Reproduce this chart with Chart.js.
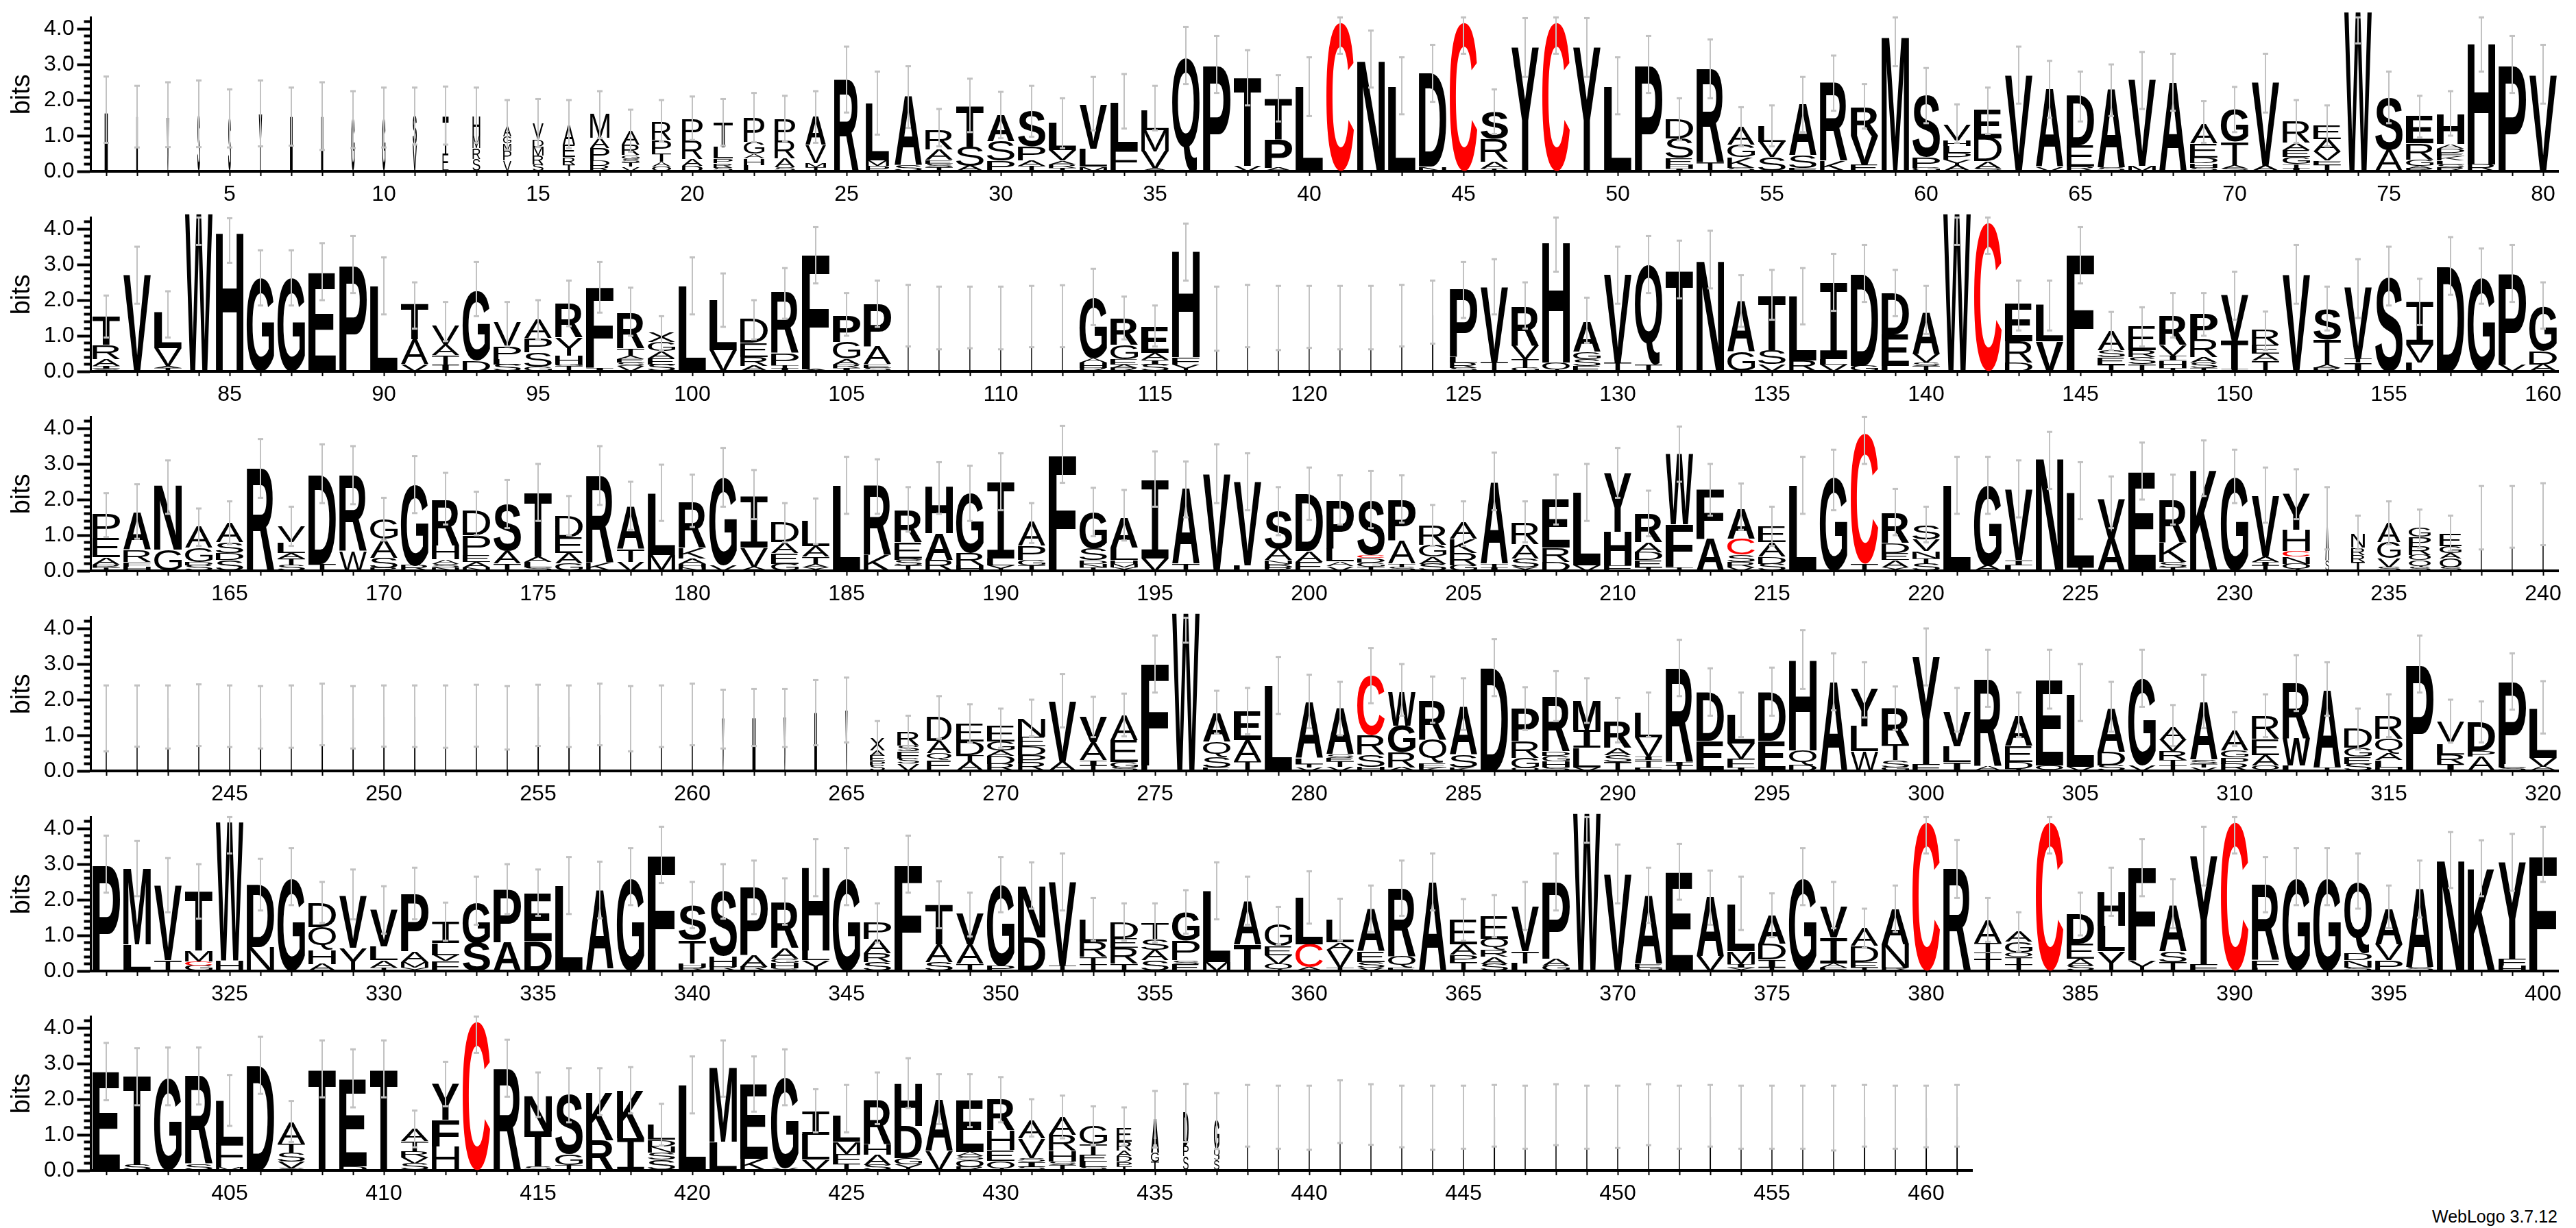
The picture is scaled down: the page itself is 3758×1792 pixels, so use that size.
<!DOCTYPE html>
<html>
<head>
<meta charset="utf-8">
<title>WebLogo</title>
<script src="https://cdn.jsdelivr.net/npm/chart.js@4/dist/chart.umd.min.js"></script>
<style>
html,body{margin:0;padding:0;background:#fff;width:3758px;height:1792px;overflow:hidden}
canvas{position:absolute;left:0}
#credit{position:absolute;left:3548px;top:1761px;font:25px "Liberation Sans",sans-serif;color:#000;white-space:nowrap}
</style>
</head>
<body>
<div id="credit">WebLogo 3.7.12</div>
<script>
// Each column lists its letters bottom to top as letter + height in bits.
const logoRow1 = [
"I1.65","I1.55","V1.5","S1.6","S1.5","Y1.6","I1.55","I1.55","G1.5","G1.5",
"V.75 S.8","E.5 T1.05","S.35 R.3 M.35 H.55","V.3 P.28 M.2 G.2 A.3","S.2 R.25 M.25 D.2 V.45","T.2 R.2 E.35 A.55","R.15 D.15 P.35 A.3 M.65","V.13 T.12 S.1 G.1 R.3 A.4","O.13 A.13 T.22 P.4 R.5","D.15 A.2 R.52 P.6",
"S.1 R.13 P.13 L.32 T.7","L.18 H.18 A.13 G.33 P.65","S.12 A.25 R.5 P.6","T.12 M.12 V.5 A.8","R2.6","P.15 M.15 L1.6","S.17 A1.93","T.12 S.1 E.1 A.3 R.55","A.15 S.55 T1.15","P.3 S.55 A.73",
"T.15 A.15 P.4 S.98","T.1 R.1 A.1 V.3 L.77","M.13 L.5 V1.24","F.62 L1.3","A.08 V.48 M.6 L.57","Q3.2","P3.0","V.15 T2.47","A.1 P.8 T1.15","L2.37",
"C4.17","N3.12","L2.37","N.13 D2.6","C4.17","T.07 A.2 R.65 S.75","Y3.48","C4.17","Y3.48","L2.37",
"P3.0","I.07 H.1 E.2 S.55 D.55","T.25 R2.63","S.1 K.3 G.35 A.5","S.4 V.43 L.43","F.1 S.35 A1.45","K.3 R2.2","E.2 V.8 R.8","M3.78","G.1 P.3 S1.73",
"A.15 Y.17 P.2 L.2 H.15 V.45","S.08 A.2 D.65 E.8","V2.7","V.12 A2.18","R.13 E.6 D1.4","S.1 A2.2","M.15 V2.42","A2.5","S.1 H.13 D.15 E.4 A.55","S.08 A.1 T.65 G.9",
"A.15 V2.33","I.1 T.1 G.2 E.2 A.2 R.6","T.2 F.1 V.25 A.35 E.4","W4.47","A.6 S1.47","R.07 A.08 G.18 R.45 E.75","R.1 S.1 L.1 K.12 E.1 D.12 A.13 H.85","R.2 H3.4","P3.0","V2.7"];
const lowerRow1 = [.8,.67,.68,.68,.67,.7,.72,.6,.65,.67,.75,.75,.8,.6,.68,.65,.93,.55,.85,.88,.72,.82,.85,.8,1.65,1.03,1.22,.7,1.1,.93,.97,.65,1.15,1.2,1.15,2.45,2.2,1.85,1.4,1.55,3.3,2.35,1.6,1.95,3.3,1.05,2.65,3.3,2.65,1.6,2.2,.87,2.05,.7,.7,1.1,1.7,1.2,2.95,1.35,.8,1.05,1.9,1.5,1.4,1.55,1.75,1.7,.8,1.1,1.65,.8,.7,3.59,1.35,.95,1.0,2.8,2.2,1.9];
const upperRow1 = [2.66,2.4,2.5,2.55,2.3,2.55,2.35,2.5,2.25,2.35,2.35,2.38,2.35,2.0,2.03,2.0,2.25,1.73,2.0,2.1,2.03,2.2,2.12,2.25,3.5,2.8,2.95,1.75,2.6,2.23,2.4,2.05,2.65,2.73,2.4,4.05,3.8,3.4,2.7,3.2,4.32,3.95,3.2,3.55,4.32,2.3,4.3,4.32,4.3,3.2,3.8,2.05,3.7,1.8,1.85,2.65,3.25,2.45,4.32,2.9,1.88,2.35,3.5,3.1,2.8,3.0,3.35,3.3,1.97,2.37,3.3,2.0,1.85,4.32,2.8,2.12,2.25,4.32,3.8,3.55];

const logoRow2 = [
"S.07 I.08 A.2 R.4 T.78","V2.73","T.1 A.05 V.5 L1.0","W4.42","H3.9","G2.63","G2.63","E2.78","P3.0","L2.4",
"V.2 A.7 T.98","I.2 T.25 A.3 V.53","D.3 G1.96","S.2 L.15 P.35 V.68","G.13 S.4 P.4 A.51","T.15 G.05 H.25 Y.5 R.95","I.1 F2.26","V.15 S.1 E.1 A.1 T.2 R.98","S.2 E.17 A.2 G.25 X.26","L2.4",
"V.6 L1.4","A.15 R.25 E.4 D.66","I.1 T.07 P.33 R1.7","A.05 F3.23","I.1 R.1 A.15 G.47 P.75","S.1 E.1 A.5 P1.2","I1.5","I1.5","I1.5","I1.5",
"I1.5","I1.5","R.1 H.15 A.12 G1.7","R.1 A.1 E.15 G.4 R.75","S.2 I.12 A.2 E.73","Y.2 F.2 H2.98","I1.5","I1.5","I1.5","I1.5",
"I1.5","I1.5","I1.5","I1.6","S.1 R.15 L.15 P1.9","T.27 V2.1","G.1 T.25 V.38 R1.1","Q.25 H3.38","E.15 S.2 G.2 A.85","T.25 V2.47",
"T.2 Q2.78","T2.85","N3.1","G.55 A1.42","V.2 S.4 T1.53","R.3 L1.8","V.2 L.15 I2.15","G.15 D2.57","L.15 E.88 D1.15","T.15 S.1 V.25 A1.17",
"W4.42","C4.17","D.25 R.6 E1.05","V.85 L1.03","F3.28","T.2 E.2 S.2 A.55","T.2 S.2 R.2 E.66","T.1 H.2 I.15 V.3 R.82","T.1 S.15 A.15 R.5 P.72","I.07 T.8 V1.28",
"T.3 A.2 E.25 R.43","V2.72","R.1 A.1 T.7 S.85","I.25 T.12 V2.0","S2.65","L.25 V.5 I1.2","D2.93","G2.63","V.2 P2.55","A.2 D.37 G1.25"];
const lowerRow2 = [.95,1.9,.95,3.55,3.05,1.85,1.85,2.0,2.2,1.6,1.2,.85,1.55,.7,.9,1.27,1.65,1.0,.6,1.6,1.25,.9,1.48,2.47,1.0,1.25,.7,.62,.65,.62,.68,.68,1.3,.9,.7,2.55,.58,.68,.6,.66,.62,.62,.7,.78,1.5,1.6,1.2,2.8,.8,1.9,2.2,2.05,2.33,1.25,1.45,1.32,1.7,1.95,1.55,1.05,3.55,3.3,1.15,1.15,2.47,.6,.7,.95,1.0,1.45,.6,1.9,1.15,1.5,1.85,1.3,2.15,1.9,1.95,1.2];
const upperRow2 = [2.13,3.5,2.25,4.32,4.3,3.4,3.4,3.6,3.8,3.2,2.5,1.95,3.07,1.95,2.0,2.55,3.07,2.35,1.55,3.2,2.75,2.0,2.9,4.05,2.2,2.55,2.43,2.38,2.38,2.38,2.4,2.42,2.88,2.1,1.85,4.15,2.38,2.43,2.4,2.4,2.4,2.4,2.43,2.55,3.07,3.15,2.5,4.32,2.07,3.5,3.8,3.67,3.95,2.7,2.85,2.9,3.3,3.55,2.85,2.4,4.32,4.32,2.55,2.55,4.05,1.67,1.8,2.2,2.2,2.8,1.68,3.55,2.38,3.15,3.5,2.6,3.77,3.45,3.55,2.5];

const logoRow3 = [
"T.1 R.08 A.2 E.55 P.65","H.12 F.13 R.33 A1.05","G.6 N1.8","S.15 D.1 G.4 A.6","S.3 D.2 S.3 A.55","R2.87","S.15 T.2 A.15 L.3 V.45","T.2 D2.5","W.55 R2.13","R.07 S.3 A.52 G.55",
"R.15 G2.27","N.1 S.1 A.12 H.38 R1.3","N.1 A.15 E.2 P.55 D.69","T.2 A.35 S1.32","S.1 L.15 A.15 T1.78","G.2 A.3 E.45 D.6","K.22 R2.43","V.25 T.35 A1.2","M.45 L1.73","N.1 H.1 A.15 K.3 R1.3",
"V.15 G2.47","A.1 V.55 I1.45","G.2 E.3 A.3 D.57","X.1 A.1 T.2 A.3 L.7","L2.4","K.45 R1.95","T.15 S.15 B.05 E.45 R.9","R.3 A.75 H1.31","H.15 R.35 G1.66","Y.15 L.2 I2.15",
"T.15 G.15 P.4 A.68","F3.27","T.1 N.1 D.1 S.33 G1.0","X.1 M.1 H.1 L.35 A.85","V.35 I2.2","T.2 A2.1","V2.72","L.15 V2.34","R.08 B.12 N.1 A.32 S1.05","E.25 A.3 D1.61",
"V.13 A.13 L.37 P1.34","T.12 G.12 D.12 C.08 S1.53","S.1 T.1 A.65 P1.15","S.2 A.2 G.33 R.55","G.15 R.35 K.4 A.48","I.1 T.1 A2.29","X.1 S.25 A.4 R.6","D.25 R.4 E1.35","V.15 L2.05","F.15 H.95 Y1.65",
"T.1 E.2 D.22 A.28 R.8","T.1 F1.2 W1.97","A.9 F1.38","V.1 R.15 S.2 C.45 A.85","S.2 D.2 A.4 E.45","L2.4","G2.62","T.2 C3.65","X.1 A.2 E.2 D.28 R.85","S.2 T.15 N.2 V.33 S.4",
"L2.4","A.15 G2.25","L.15 I.15 V1.98","N3.15","T.1 L2.1","A.9 V1.1","E2.78","T.1 S.15 K.55 R1.2","K2.85","G2.62",
"T.15 I.1 A.15 V1.7","Q.2 N.2 C.15 H.6 Y1.01","S.3 A1.17","T.25 R.2 R.2 N.4","S.1 V.25 G.45 A.55","S.1 Q.2 O.15 R.25 P.25 G.25","S.1 O.25 A.15 G.2 E.35","I1.55","I1.55","I1.6"];
const lowerRow3 = [.95,.9,1.6,.7,.75,2.05,.7,1.9,1.87,.85,1.62,1.3,1.0,1.2,1.4,1.0,1.85,1.15,1.4,1.23,1.8,1.45,.8,.75,1.6,1.6,1.1,1.6,1.4,1.7,.78,2.47,.97,.85,1.8,1.5,1.9,1.7,1.0,1.43,1.3,1.2,1.35,.7,.7,1.7,.8,1.3,1.4,2.05,.97,2.5,1.55,1.15,.7,1.6,1.7,3.0,1.0,.8,1.6,1.6,1.5,2.3,1.45,1.2,2.0,1.3,2.1,1.9,1.35,1.45,.6,.6,.75,.65,.55,.6,.65,.72];
const upperRow3 = [2.18,2.43,3.1,1.75,1.95,3.7,1.8,3.55,3.5,2.05,3.22,2.75,2.22,2.55,3.0,2.1,3.5,2.5,2.98,2.7,3.45,2.83,1.9,2.03,3.2,3.13,2.35,3.05,2.95,3.3,1.9,4.07,2.33,2.27,3.35,3.07,3.55,3.3,2.35,2.9,2.68,2.8,2.68,1.85,1.95,3.32,1.95,2.7,3.0,3.45,2.25,4.05,3.0,2.45,1.8,3.2,3.4,4.32,2.3,1.8,3.2,3.2,3.1,3.9,3.05,2.65,3.6,2.7,3.66,3.4,2.9,2.85,2.35,1.55,1.95,1.72,1.55,2.38,2.38,2.46];

const logoRow4 = [
"I1.5","I1.55","I1.5","I1.6","I1.55","I1.5","I1.55","I1.6","I1.5","I1.55",
"I1.55","I1.5","I1.55","I1.5","I1.55","I1.55","I1.6","I1.5","I1.55","I1.6",
"V1.48","I1.5","V1.5","I1.65","V1.72","S.15 P.13 E.15 A.15 X.35","V.2 S.15 F.2 S.15 R.4","E.3 Q.2 A.35 D.65","A.25 T.2 D.38 E.5","R.2 D.22 A.15 G.25 E.43",
"R.22 P.22 D.25 E.28 N.5","A.25 V1.7","T.15 I.15 A.5 V.7","S.1 G.15 E.62 A.7","L.15 F2.85","W4.42","E.1 S.3 Q.42 A.78","T.27 A.6 E.81","L2.4","V.1 T.1 L.15 A1.57",
"V.12 T.15 E.1 S.1 A1.29","H.12 S.33 R.55 C1.66","A.1 R.42 G.75 W.93","K.1 E.12 Q.65 R1.1","K.1 S.35 A1.35","D2.9","O.07 G.3 R.47 P.92","S.1 H.17 G.15 D.13 R1.53","V.1 L.55 I.5 M.82","T.25 S.2 A.2 R.75",
"F.1 T.2 I.1 V.55 L.68","T.15 I.1 R2.63","E.85 D1.35","I.1 F.25 V.42 L.8","E.85 D1.35","D.17 Q.4 H2.52","A2.5","W.55 L.7 Y1.05","G.1 S.2 T.45 R1.01","F.2 Y3.0",
"I.25 L.45 V.97","A.12 R2.44","T.05 D.2 E.45 A.83","Q.15 E2.38","V.12 L2.01","S.15 D.38 A1.21","V.15 G2.43","T.15 T.15 R.25 V.32 A.38","V.1 T.1 S.12 A1.6","R.2 P.18 G.2 A.57",
"Q.15 A.3 E.45 R.65","L.15 W.75 R1.55","T.1 A2.17","S.2 E.2 G.25 D.55","H.1 L.2 A.2 Q.4 R.65","P3.0","I.2 R.27 L.3 V.61","A.4 P.15 D.8","S.1 L.1 P2.3","A.12 V.25 L1.38"];
const lowerRow4 = [.55,.68,.63,.7,.67,.63,.65,.72,.63,.68,.67,.65,.68,.6,.7,.67,.72,.55,.67,.72,.63,.7,.67,.72,.8,.47,.6,.9,.8,.65,.97,1.22,.95,.97,2.2,3.6,1.05,1.03,1.6,1.2,1.0,1.9,1.55,1.35,1.15,2.1,1.15,1.4,1.35,.8,.95,2.1,1.55,.95,1.55,2.3,1.7,1.5,1.15,2.4,1.1,1.8,.95,1.75,1.4,1.1,1.8,.7,1.2,.7,.95,1.68,1.55,.6,.95,2.2,.8,.8,1.72,1.05];
const upperRow4 = [2.4,2.4,2.4,2.43,2.4,2.38,2.4,2.45,2.38,2.4,2.4,2.4,2.42,2.38,2.42,2.4,2.45,2.38,2.4,2.45,2.28,2.3,2.3,2.55,2.62,1.4,1.55,2.1,1.87,1.75,2.0,2.72,2.08,2.17,3.8,4.3,2.25,2.33,3.2,2.7,2.5,3.45,3.0,2.65,2.6,3.7,2.35,2.8,2.6,2.05,2.2,3.68,2.88,2.2,2.9,3.95,3.3,3.05,2.37,4.0,2.33,3.4,2.2,3.4,3.0,2.5,3.4,1.85,2.7,1.65,2.15,3.25,3.05,1.75,2.15,3.8,2.0,1.95,3.3,2.52];

const logoRow5 = [
"P3.0","L.75 M2.13","T.3 V2.1","G.15 C.12 M.3 T1.67","H.3 W3.88","N.68 D1.74","G2.6","A.2 H.4 Q.63 D.65","Y.65 V1.45","T.1 A.2 L.4 V1.02",
"Y.1 M.15 A.3 P1.6","F.28 V.17 L.33 I.6","S.78 G1.15","A.8 P1.48","D.85 E1.32","L2.4","L.07 A2.2","G2.6","F3.27","R.1 H.12 T.65 S.95",
"R.12 H.3 S1.82","R.12 A.33 P1.9","S.07 H.15 G.12 A.3 R1.3","Y.3 L.27 H2.33","G2.6","S.25 R.25 A.4 P.46","F3.0","S.25 A.5 T1.12","T.2 A.55 V.85","P.15 G2.27",
"D.95 N1.45","T.15 V2.35","T.2 T.2 R.42 L.62","T.2 R.45 E.28 D.45","S.3 A.3 S.3 T.45","E.2 S.1 P.55 G.78","M.25 L2.0","T.75 A1.22","Q.2 V.25 E.25 G.6","A.1 C.65 L1.3",
"T.1 V.5 A.2 L.64","V.1 S.15 E.3 A1.18","E.1 Q.3 R1.92","A2.5","T.25 P.2 A.3 E.68","S.2 A.2 R.2 Q.3 E.63","L.22 T.33 V1.25","G.15 A.2 P2.15","W4.42","V2.72",
"G.1 E.1 A1.92","E2.78","V.42 A1.65","Y.1 I.1 M.35 L1.3","T.1 I.22 D.45 A.8","G2.6","F.1 A.12 I.72 V.86","T.1 E.15 D.45 A.5","R.1 N.65 A1.0","C4.17",
"R2.87","T.35 T.18 T.25 A.65","T.2 T.2 O.12 G.3 A.3","C4.17","S.15 A.2 E.42 D.83","Y.55 L.72 H.95","Y.3 F2.6","T.25 S.3 A1.3","F.2 Y3.03","C4.17",
"L.1 F.2 R2.13","G2.6","G2.6","S.1 N.2 D.2 Q2.0","P.3 V.45 A1.0","S.1 A2.2","N3.1","K2.9","H.15 F.2 Y2.7","F3.2"];
const lowerRow5 = [2.2,2.1,1.65,1.47,3.3,1.7,1.85,1.35,1.45,1.05,1.45,.85,1.3,1.6,1.55,1.6,1.48,1.85,2.47,1.2,1.47,1.6,1.3,2.1,1.85,.8,2.2,1.2,.97,1.65,1.75,1.7,.85,.85,.8,1.05,1.45,1.3,.75,1.33,.85,1.1,1.55,1.7,.85,.95,1.15,1.7,3.6,1.9,1.35,2.0,1.3,1.15,.95,1.85,1.2,.65,1.1,3.3,2.05,.82,.55,3.3,1.0,1.55,2.1,1.2,2.4,3.3,1.65,1.85,1.85,1.75,1.2,1.5,2.33,2.1,2.25,2.5];
const upperRow5 = [3.8,3.65,3.17,3.0,4.32,3.15,3.45,2.5,2.85,2.38,2.9,1.92,2.65,3.0,2.85,3.2,3.07,3.45,4.05,2.5,3.0,3.1,2.6,3.7,3.45,1.9,3.8,2.52,2.2,3.2,3.05,3.3,2.05,1.9,1.9,2.27,3.05,2.65,1.8,2.8,2.03,2.4,3.1,3.3,2.02,2.13,2.5,3.3,4.32,3.55,2.9,3.57,2.82,2.65,2.18,3.45,2.5,1.75,2.4,4.32,3.68,2.05,1.65,4.32,2.2,2.9,3.7,2.58,4.05,4.32,3.2,3.45,3.45,3.3,2.4,3.1,3.9,3.67,3.85,4.05];

const logoRow6 = [
"E2.78","S.15 T2.5","G2.6","S.17 R2.48","M.1 F.65 L1.2","D2.93","S.05 V.2 S.25 T.25 A.6","T2.85","D.12 E2.43","T2.85",
"S.2 V.17 R.17 T.28 A.35","H.68 F.75 Y1.0","C4.17","R2.85","S.12 T.98 N.98","T.15 G.3 S1.67","R.85 K1.35","I.9 K1.35","S.3 S.2 N.18 D.18 L.42","L2.4",
"L.8 M2.08","K.33 E2.1","V.07 G2.53","V.3 L.7 I.67","T.2 F.27 M.33 L.73","S.15 A.3 H.3 R1.25","Y.17 G.18 D.9 H1.2","V.55 A1.45","R.1 O.2 S.1 A.12 E1.45","Q.27 E.3 H.55 R.86",
"S.1 I.15 S.1 V.55 A.49","T.15 S.1 H.3 R.45 A.5","S.1 L.15 E.2 T.3 G.5","T.12 P.13 D.15 A.15 R.25 E.4","T.25 G.25 A.94","S.4 P.3 D.93","S.3 J.12 U.18 G.8","I1.52","I1.5","I1.45",
"I1.65","I1.55","I1.52","I1.4","I1.5","I1.52","I1.48","I1.55","I1.5","I1.5",
"I1.55","I1.5","I1.52","I1.48","I1.5","I1.5","I1.48","I1.52","I1.48","I1.5","I1.52"];
const lowerRow6 = [1.97,1.83,1.83,1.85,1.25,2.15,.8,2.05,1.77,2.05,.65,1.8,3.3,2.07,1.5,1.35,1.55,1.6,.7,1.6,2.07,1.65,1.83,1.07,1.07,1.3,1.75,1.3,1.22,1.35,.95,.9,.7,.7,.64,.8,.6,.67,.61,.58,.77,.72,.65,.58,.61,.67,.61,.71,.61,.63,.71,.61,.67,.61,.61,.61,.56,.67,.61,.65,.67];
const upperRow6 = [3.58,3.43,3.45,3.45,2.68,3.75,1.95,3.65,3.4,3.65,1.68,3.05,4.32,3.67,2.75,2.87,2.87,2.9,1.87,3.2,3.65,3.2,3.4,2.28,2.4,2.75,3.15,2.7,2.7,2.62,2.0,2.1,1.8,1.77,2.23,2.43,2.17,2.4,2.38,2.38,2.53,2.42,2.38,2.38,2.38,2.4,2.38,2.42,2.38,2.38,2.42,2.38,2.4,2.38,2.38,2.38,2.38,2.4,2.38,2.38,2.4];

// Share of sequences present at sparse columns (columns not listed are 1).
const occupancy = {
1:.12,2:.06,3:.08,4:.1,5:.1,6:.12,7:.1,8:.08,9:.12,10:.12,11:.15,12:.22,13:.28,14:.3,15:.4,16:.45,17:.7,18:.65,19:.7,20:.75,21:.7,22:.75,23:.75,24:.75,25:.9,26:.85,
107:.03,108:.03,109:.03,110:.03,111:.03,112:.03,117:.03,118:.03,119:.03,120:.03,121:.03,122:.03,123:.04,124:.05,
233:.13,234:.5,235:.85,236:.8,237:.8,238:.03,239:.03,240:.04,
241:.04,242:.04,243:.05,244:.04,245:.04,246:.05,247:.04,248:.05,249:.05,250:.05,251:.05,252:.04,253:.04,254:.04,255:.05,256:.05,257:.05,258:.04,259:.04,260:.04,261:.08,262:.12,263:.08,264:.1,265:.08,266:.55,267:.8,268:.9,
434:.55,435:.3,436:.2,437:.2,
438:.04,439:.04,440:.04,441:.04,442:.04,443:.04,444:.04,445:.04,446:.05,447:.04,448:.04,449:.04,450:.04,451:.04,452:.04,453:.05,454:.04,455:.04,456:.04,457:.04,458:.05,459:.04,460:.05,461:.05
};
const firstPositions = [1,81,161,241,321,401];
const logos = [logoRow1,logoRow2,logoRow3,logoRow4,logoRow5,logoRow6];
const lowers = [lowerRow1,lowerRow2,lowerRow3,lowerRow4,lowerRow5,lowerRow6];
const uppers = [upperRow1,upperRow2,upperRow3,upperRow4,upperRow5,upperRow6];
const rowTops = [0,292,583,875,1167,1458];
const rowRightPad = [25.5,25.5,25.5,25.5,25.5,880.5];

const glyphCache = {};
function glyph(ctx, ch, fontSpec){
  const key = ch+fontSpec;
  if(!glyphCache[key]){
    ctx.save();
    ctx.font = fontSpec;
    const m = ctx.measureText(ch);
    glyphCache[key] = {font:fontSpec,l:m.actualBoundingBoxLeft,r:m.actualBoundingBoxRight,a:m.actualBoundingBoxAscent,d:m.actualBoundingBoxDescent};
    ctx.restore();
  }
  return glyphCache[key];
}
const lettersPlugin = {
  id:'letters',
  afterDatasetsDraw(chart, args, opts){
    const ctx = chart.ctx, yScale = chart.scales.y, xScale = chart.scales.x;
    const pxPerBit = yScale.getPixelForValue(0)-yScale.getPixelForValue(1);
    chart.data.datasets.forEach((ds,di)=>{
      chart.getDatasetMeta(di).data.forEach((bar,i)=>{
        const ch = ds.letters[i];
        if(!ch) return;
        const occ = occupancy[opts.first+i] ?? 1;
        const w = Math.max(bar.width*occ,1.5), top = bar.y, h = bar.base-bar.y;
        if(h<=0) return;
        let fontSpec;
        if(ch==='I') fontSpec = occ<.4 ? 'bold 200px "Liberation Sans"' : '200px "Liberation Mono"';
        else fontSpec = (h/pxPerBit<.7 ? '' : 'bold ')+'200px "Liberation Sans"';
        const g = glyph(ctx,ch,fontSpec);
        ctx.save();
        ctx.fillStyle = ch==='C' ? '#ff0000' : '#000000';
        ctx.font = g.font;
        ctx.textAlign='left'; ctx.textBaseline='alphabetic';
        ctx.translate(bar.x-w/2, top);
        ctx.scale(w/(g.l+g.r), h/(g.a+g.d));
        ctx.fillText(ch, g.l, g.a);
        ctx.restore();
      });
    });
    // error bars
    ctx.save();
    ctx.strokeStyle = ctx.fillStyle = '#c2c2c2';
    ctx.lineWidth = 2;
    opts.lower.forEach((lo,i)=>{
      const x = xScale.getPixelForValue(i);
      const y0 = yScale.getPixelForValue(lo), y1 = yScale.getPixelForValue(opts.upper[i]);
      ctx.beginPath(); ctx.moveTo(x,y0); ctx.lineTo(x,y1); ctx.stroke();
      ctx.fillRect(x-4,y0-1.5,8,3);
      ctx.fillRect(x-4,y1-1.5,8,3);
    });
    ctx.restore();
  }
};

logos.forEach((rows,r)=>{
  const canvas = document.createElement('canvas');
  canvas.width = 3758; canvas.height = 300;
  canvas.style.top = rowTops[r]+'px';
  document.body.appendChild(canvas);
  const parsed = rows.map(s=>s.split(' ').map(t=>[t[0],parseFloat(t.slice(1))]));
  const layers = Math.max(...parsed.map(p=>p.length));
  const datasets = [];
  for(let k=0;k<layers;k++){
    datasets.push({
      data: parsed.map(p=>p[k]?p[k][1]:null),
      letters: parsed.map(p=>p[k]?p[k][0]:null),
      backgroundColor:'rgba(0,0,0,0)', borderWidth:0,
      barPercentage:1, categoryPercentage:.89, stack:'logo'
    });
  }
  const labels = rows.map((_,i)=>firstPositions[r]+i);
  new Chart(canvas,{
    type:'bar',
    data:{labels,datasets},
    plugins:[lettersPlugin],
    options:{
      responsive:false, animation:false, devicePixelRatio:1,
      layout:{padding:{top:25.4,left:0,right:rowRightPad[r],bottom:0}},
      plugins:{legend:{display:false},tooltip:{enabled:false},
        letters:{first:firstPositions[r],lower:lowers[r],upper:uppers[r]}},
      scales:{
        x:{
          stacked:true, offset:true,
          afterFit(s){s.height=50;},
          grid:{offset:false,drawOnChartArea:false,tickLength:7,tickWidth:2,tickColor:'#000'},
          border:{width:4,color:'#000'},
          ticks:{autoSkip:false,maxRotation:0,minRotation:0,padding:8,color:'#000',
            font:{family:'"Liberation Sans"',size:32},
            callback(v){const n=this.getLabelForValue(v);return n%5===0?String(n):'';}}
        },
        y:{
          stacked:true,min:0,max:4.32,
          afterFit(s){s.width=132.5;},
          title:{display:true,text:'bits',color:'#000',font:{family:'"Liberation Sans"',size:38,lineHeight:1},padding:{top:14,bottom:0}},
          grid:{drawOnChartArea:false,tickLength:20,tickWidth:4,tickColor:'#000',
            tickBorderDash(c){const v=c.tick?c.tick.value:0;return Math.abs(v-Math.round(v))<1e-6?[]:[0,10,10,0];}},
          border:{width:3,color:'#000'},
          ticks:{stepSize:.2,includeBounds:false,padding:4,color:'#000',autoSkip:false,
            font:{family:'"Liberation Sans"',size:32},
            callback(v){return Math.abs(v-Math.round(v))<1e-6?v.toFixed(1):'';}}
        }
      }
    }
  });
});
</script>
</body>
</html>
